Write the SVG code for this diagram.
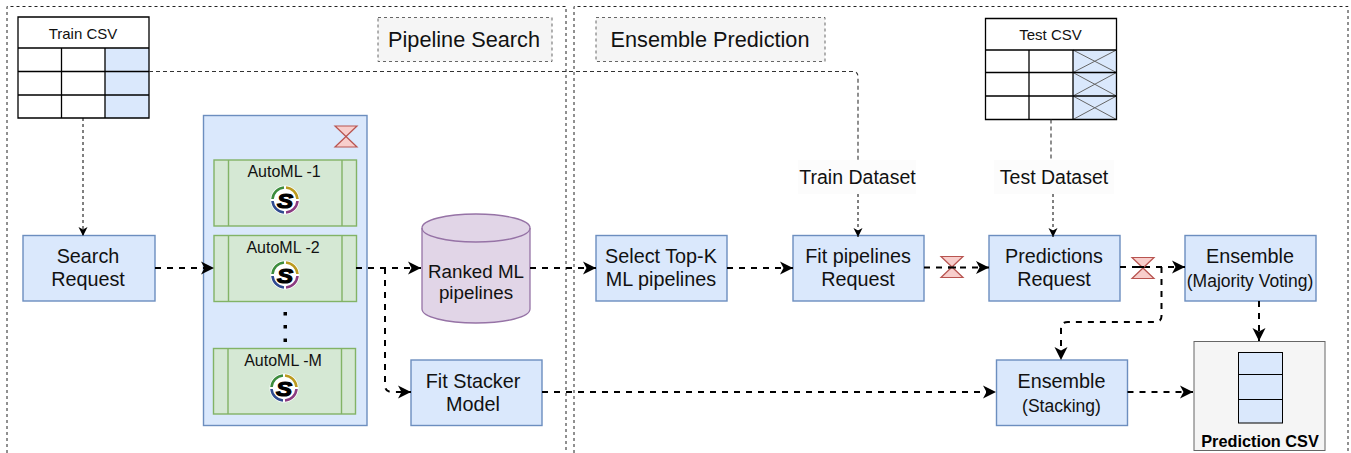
<svg xmlns="http://www.w3.org/2000/svg" width="1351" height="453" viewBox="0 0 1351 453">
<style>
text{font-family:"Liberation Sans",Arial,sans-serif;fill:#111;text-anchor:middle}
.t21{font-size:21.700px}.t20{font-size:19.800px}.t19{font-size:19.500px}.t15{font-size:15px}.t16{font-size:16px}.t17{font-size:17.500px}
.blue{fill:#dae8fc;stroke:#6c8ebf;stroke-width:1.4}
.green{fill:#d5e8d4;stroke:#82b366;stroke-width:1.4}
.line{fill:none;stroke:#82b366;stroke-width:1.4}
.frame{fill:none;stroke:#222;stroke-width:1;stroke-dasharray:3 3}
.tag{fill:#f5f5f5;stroke:#666;stroke-width:1;stroke-dasharray:3 3}
.grid{fill:none;stroke:#000;stroke-width:1.300}
.cell{fill:#dae8fc;stroke:none}
.x{fill:none;stroke:#666;stroke-width:1}
.hg{fill:#f8cecc;stroke:#b85450;stroke-width:1.200}
.flow{fill:none;stroke:#000;stroke-width:2;stroke-dasharray:6 6;marker-end:url(#arrow)}
.thin{fill:none;stroke:#000;stroke-width:1;stroke-dasharray:3 3}
.gray{fill:none;stroke:#333;stroke-width:1.100;stroke-dasharray:4 3}
.small{marker-end:url(#arrowS)}
</style>
<defs>
<marker id="arrow" markerUnits="userSpaceOnUse" markerWidth="16" markerHeight="16" refX="14" refY="8" orient="auto"><path d="M1 1.500L14 8L1 14.500L4.500 8Z" fill="#000"/></marker>
<marker id="arrowS" markerUnits="userSpaceOnUse" markerWidth="12" markerHeight="12" refX="10" refY="6" orient="auto"><path d="M1 1.500L10 6L1 10.500L3.500 6Z" fill="#000"/></marker>
<g id="hourglass"><path class="hg" d="M0 0H22L0 21H22Z"/></g>
<g id="logo">
<circle r="14.500" fill="#fff"/>
<path d="M-12.500 -1A12.500 12.500 0 0 1 -1 -12.500" fill="none" stroke="#3c8c3c" stroke-width="2.600"/>
<path d="M1 -12.500A12.500 12.500 0 0 1 12.500 -1" fill="none" stroke="#bb9a1e" stroke-width="2.600"/>
<path d="M12.500 1A12.500 12.500 0 0 1 1 12.500" fill="none" stroke="#8a3b80" stroke-width="2.600"/>
<path d="M-1 12.500A12.500 12.500 0 0 1 -12.500 1" fill="none" stroke="#2f4a8f" stroke-width="2.600"/>
<text x="0" y="7.500" transform="scale(1.150 1)" style="font-size:21px;font-weight:bold;font-style:italic;fill:#000;stroke:#000;stroke-width:1.200">S</text>
</g>
</defs>

<g id="frames">
<path class="frame" d="M7 453V6.500H566V453"/>
<path class="frame" d="M574 453V6.500H1348V453"/>
</g>

<g id="tag-search"><rect class="tag" x="378" y="17.500" width="174" height="44"/><text class="t21" x="464" y="47">Pipeline Search</text></g>
<g id="tag-ensemble"><rect class="tag" x="596" y="17.500" width="229" height="44"/><text class="t21" x="710" y="47">Ensemble Prediction</text></g>

<g id="train-csv">
<rect x="18" y="17" width="131" height="101" fill="#fff"/>
<rect class="cell" x="105" y="48" width="44" height="70"/>
<path class="grid" d="M18 17H149V118H18ZM18 48H149M18 71.500H149M18 95H149M61.500 48V118M105 48V118"/>
<text class="t15" x="83" y="39">Train CSV</text>
</g>

<g id="test-csv">
<rect x="985.500" y="18.500" width="131" height="101" fill="#fff"/>
<rect class="cell" x="1073" y="50" width="43.500" height="69.500"/>
<path class="x" d="M1073 50L1116.500 72.500M1116.500 50L1073 72.500M1073 72.500L1116.500 96M1116.500 72.500L1073 96M1073 96L1116.500 119.500M1116.500 96L1073 119.500"/>
<path class="grid" d="M985.500 18.500H1116.500V119.500H985.500ZM985.500 50H1116.500M985.500 72.500H1116.500M985.500 96H1116.500M1029 50V119.500M1073 50V119.500"/>
<text class="t15" x="1050.500" y="40">Test CSV</text>
</g>

<g id="automl-container">
<rect class="blue" x="203.500" y="115.500" width="163.500" height="310"/>
<use href="#hourglass" x="335" y="126"/>
<path d="M283.500 312H287V315.500H283.500ZM283.500 325H287V328.500H283.500ZM283.500 338.500H287V342H283.500Z" fill="#000"/>
</g>

<g id="automl-1">
<rect class="green" x="214" y="160" width="142.500" height="66"/>
<path class="line" d="M228.500 160V226M342 160V226"/>
<text class="t16" x="284" y="177">AutoML -1</text>
<use href="#logo" x="285" y="200"/>
</g>
<g id="automl-2">
<rect class="green" x="214" y="235.500" width="142.500" height="66"/>
<path class="line" d="M228.500 235.500V301.500M342 235.500V301.500"/>
<text class="t16" x="283" y="252.500">AutoML -2</text>
<use href="#logo" x="285" y="275"/>
</g>
<g id="automl-m">
<rect class="green" x="213.500" y="348.500" width="142" height="65.500"/>
<path class="line" d="M228 348.500V414M341.500 348.500V414"/>
<text class="t16" x="283" y="366">AutoML -M</text>
<use href="#logo" x="284" y="388"/>
</g>

<g id="search-request"><rect class="blue" x="23" y="235.500" width="132" height="65.500"/><text class="t20" x="88" y="263">Search</text><text class="t20" x="88" y="286">Request</text></g>
<g id="ranked-pipelines">
<path d="M422 228C422 220 446 214 476 214S530 220 530 228V309C530 317 506 323 476 323S422 317 422 309Z" fill="#e1d5e7" stroke="#9673a6" stroke-width="1.300"/>
<path d="M422 228C422 236 446 242 476 242S530 236 530 228" fill="none" stroke="#9673a6" stroke-width="1.300"/>
<text x="476" y="278" style="font-size:18.800px">Ranked ML</text><text x="476" y="299" style="font-size:18.800px">pipelines</text>
</g>
<g id="fit-stacker"><rect class="blue" x="411" y="360" width="131" height="65.500"/><text class="t20" x="473" y="387.500">Fit Stacker</text><text class="t20" x="473" y="410.500">Model</text></g>
<g id="select-top-k"><rect class="blue" x="596" y="235.500" width="131" height="65.500"/><text class="t20" x="661" y="263">Select Top-K</text><text class="t20" x="661" y="286">ML pipelines</text></g>
<g id="fit-pipelines"><rect class="blue" x="793" y="235.500" width="131" height="65.500"/><text class="t20" x="858" y="263">Fit pipelines</text><text class="t20" x="858" y="286">Request</text></g>
<g id="predictions-request"><rect class="blue" x="989" y="235.500" width="131" height="65.500"/><text class="t20" x="1054" y="263">Predictions</text><text class="t20" x="1054" y="286">Request</text></g>
<g id="ensemble-majority"><rect class="blue" x="1185" y="235.500" width="131" height="65.500"/><text class="t20" x="1250" y="263">Ensemble</text><text class="t17" x="1250" y="286.500">(Majority Voting)</text></g>
<g id="ensemble-stacking"><rect class="blue" x="996.500" y="360" width="131" height="65.500"/><text class="t20" x="1061.500" y="388">Ensemble</text><text class="t17" x="1061.500" y="411.500">(Stacking)</text></g>
<g id="prediction-csv">
<rect x="1194" y="341.500" width="131" height="109" fill="#f5f5f5" stroke="#666" stroke-width="1"/>
<rect x="1238.500" y="352.500" width="44" height="70.500" fill="#dae8fc" stroke="#000" stroke-width="1"/>
<path d="M1238.500 374.500H1282.500M1238.500 399.500H1282.500" stroke="#000" fill="none"/>
<text x="1260" y="447" style="font-size:16.300px;font-weight:bold;fill:#000">Prediction CSV</text>
</g>

<g id="connectors">
<path class="gray" d="M149 71.500H853Q858 71.500 858 77V160"/>
<path class="thin small" d="M858 194V237"/>
<path class="gray" d="M1051 119.500V160"/>
<path class="thin small" d="M1053 194V237"/>
<path class="thin small" d="M83 118V236"/>
<path class="flow" d="M155 268H214"/>
<path class="flow" d="M356 268H421"/>
<path class="flow" d="M385 268V385Q385 392 392 392H411"/>
<path class="flow" d="M530 268H596"/>
<path class="flow" d="M727 268H793"/>
<path class="flow" d="M924 267.500H989"/>
<path class="flow" d="M1120 267H1185"/>
<path class="flow" d="M1161.500 267V316Q1161.500 322 1155 322H1068Q1061 322 1061 329V360"/>
<path class="flow" d="M1259 301V341"/>
<path class="flow" d="M542 392H996"/>
<path class="flow" d="M1127.500 392H1193"/>
</g>

<g id="hourglasses">
<use href="#hourglass" x="941" y="256.500"/>
<use href="#hourglass" x="1132" y="257.500"/>
<path d="M948 267.500H956" stroke="#000" stroke-width="2"/>
<path d="M1132 267H1144" stroke="#000" stroke-width="2"/>
</g>

<g id="labels">
<rect x="798" y="160" width="118" height="34" fill="#fcfcfc"/><text class="t19" x="857.500" y="183.500">Train Dataset</text>
<rect x="994" y="160" width="120" height="34" fill="#fcfcfc"/><text class="t19" x="1054" y="183.500">Test Dataset</text>
</g>
</svg>
